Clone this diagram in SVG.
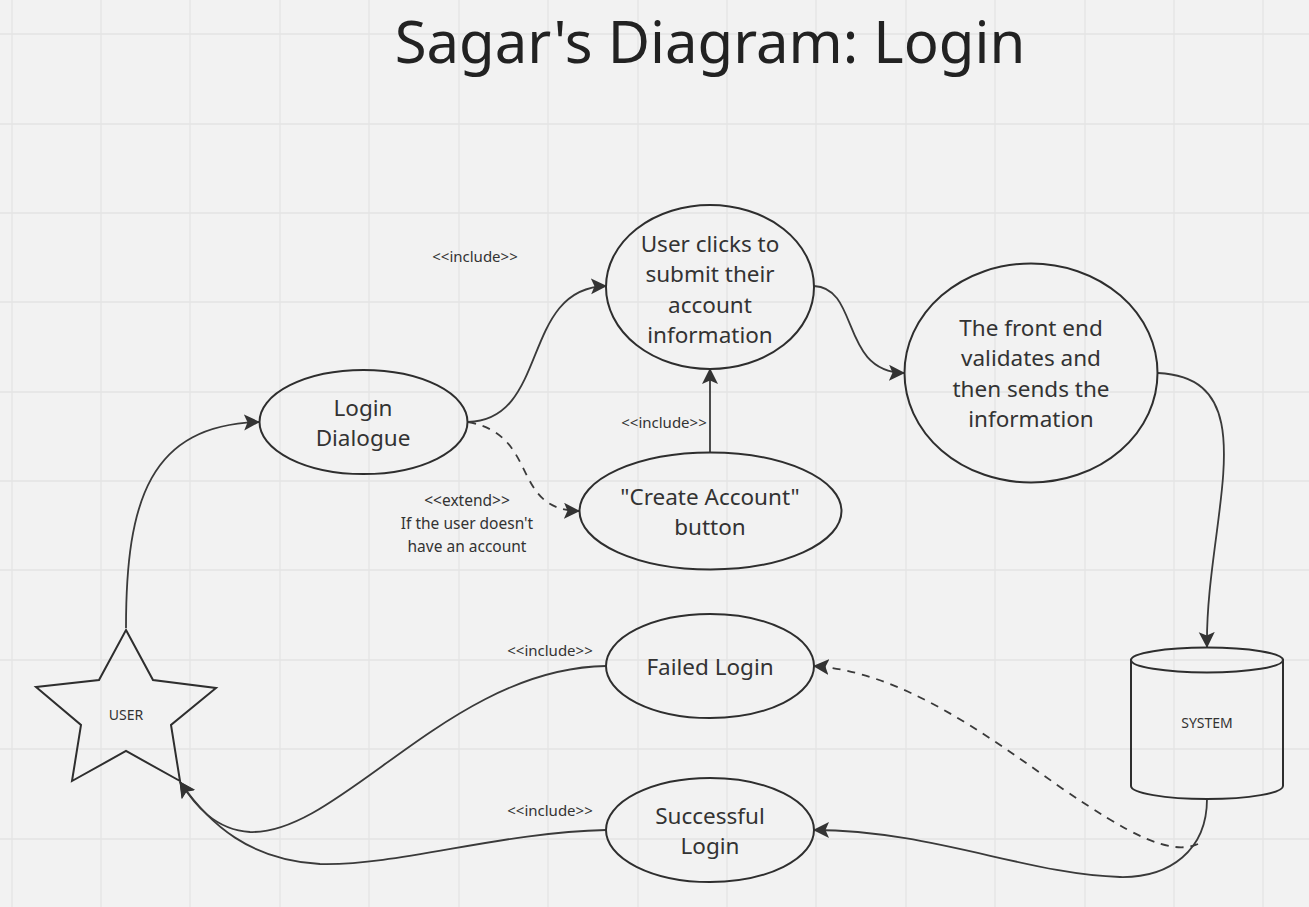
<svg xmlns="http://www.w3.org/2000/svg" width="1309" height="907" viewBox="0 0 1309 907">
<style>
.g{stroke:#e4e4e4;stroke-width:1.3;fill:none}
.s{fill:none;stroke:#2e2e2e;stroke-width:2}
.c{fill:none;stroke:#3a3a3a;stroke-width:1.8}
.d{stroke-dasharray:8 7}
text{font-family:"Noto Sans","Open Sans",sans-serif;fill:#333;text-anchor:middle}
.n{font-size:22.5px}
.l{font-size:15px}
.e{font-size:15.500px}
.t{font-size:58px;fill:#222}
</style>
<defs><marker id="a" markerUnits="userSpaceOnUse" markerWidth="18" markerHeight="18" refX="15" refY="8" orient="auto"><path d="M0 0L16 8L0 16L3.500 8Z" fill="#333"/></marker></defs>
<rect width="1309" height="907" fill="#f2f2f2"/>
<g id="grid"><path class="g" d="M12 0V907M101 0V907M190 0V907M280 0V907M369 0V907M459 0V907M548 0V907M638 0V907M727 0V907M816 0V907M906 0V907M995 0V907M1085 0V907M1174 0V907M1263 0V907M0 34H1309M0 124H1309M0 213H1309M0 302H1309M0 392H1309M0 481H1309M0 570H1309M0 660H1309M0 749H1309M0 839H1309"/></g>
<text class="t" x="710" y="63">Sagar's Diagram: Login</text>
<g id="connectors">
<path class="c" marker-end="url(#a)" d="M126 628C126 500 150 425 259 422"/>
<path class="c" marker-end="url(#a)" d="M468 422C550 420 520 288 606 286"/>
<path class="c d" marker-end="url(#a)" d="M468 422C540 435 510 510 579 511"/>
<path class="c" marker-end="url(#a)" d="M710 452V369"/>
<path class="c" marker-end="url(#a)" d="M814 286C860 288 840 372 904 373"/>
<path class="c" marker-end="url(#a)" d="M1158 373C1270 378 1205 520 1207 647"/>
<path class="c" marker-end="url(#a)" d="M606 666C450 668 340 835 250 832C215 830 195 805 180 782"/>
<path class="c" marker-end="url(#a)" d="M606 830C500 832 400 866 320 864C250 860 210 825 180 782"/>
<path class="c" marker-end="url(#a)" d="M1207 799C1207 850 1170 878 1120 877C1030 875 930 830 814 830"/>
<path class="c d" marker-end="url(#a)" d="M1198 844C1170 856 1130 835 1060 787C980 730 900 672 814 666"/>
</g>
<g id="user"><path class="s" d="M126 630L153 680L216 688L171 725L180 781L126 751L72 781L81 725L36 687L99 680Z"/><text x="126" y="720" font-size="14">USER</text></g>
<g id="login"><ellipse class="s" cx="363.500" cy="422" rx="104" ry="52"/><text class="n" x="363" y="416">Login</text><text class="n" x="363" y="446">Dialogue</text></g>
<g id="submit"><ellipse class="s" cx="710" cy="287" rx="104" ry="82"/><text class="n" x="710" y="252">User clicks to</text><text class="n" x="710" y="282">submit their</text><text class="n" x="710" y="313">account</text><text class="n" x="710" y="343">information</text></g>
<g id="validate"><ellipse class="s" cx="1031" cy="373" rx="126.500" ry="109.500"/><text class="n" x="1031" y="336">The front end</text><text class="n" x="1031" y="366">validates and</text><text class="n" x="1031" y="397">then sends the</text><text class="n" x="1031" y="427">information</text></g>
<g id="create"><ellipse class="s" cx="710.500" cy="511" rx="131" ry="58.500"/><text class="n" x="710" y="505">"Create Account"</text><text class="n" x="710" y="535">button</text></g>
<g id="failed"><ellipse class="s" cx="710" cy="666" rx="104" ry="52"/><text class="n" x="710" y="675">Failed Login</text></g>
<g id="success"><ellipse class="s" cx="710" cy="830" rx="104" ry="52"/><text class="n" x="710" y="824">Successful</text><text class="n" x="710" y="854">Login</text></g>
<g id="system"><path class="s" d="M1131 659V786C1131 793 1165 799 1207 799C1249 799 1283 793 1283 786V659"/><ellipse class="s" cx="1207" cy="660" rx="76" ry="12.500"/><text x="1207" y="728" font-size="14">SYSTEM</text></g>
<g id="labels">
<text class="l" x="475" y="262">&lt;&lt;include&gt;&gt;</text>
<text class="l" x="664" y="428">&lt;&lt;include&gt;&gt;</text>
<text class="l" x="550" y="656">&lt;&lt;include&gt;&gt;</text>
<text class="l" x="550" y="816">&lt;&lt;include&gt;&gt;</text>
<text class="e" x="467" y="506">&lt;&lt;extend&gt;&gt;</text>
<text class="e" x="467" y="529">If the user doesn't</text>
<text class="e" x="467" y="552">have an account</text>
</g>
</svg>
